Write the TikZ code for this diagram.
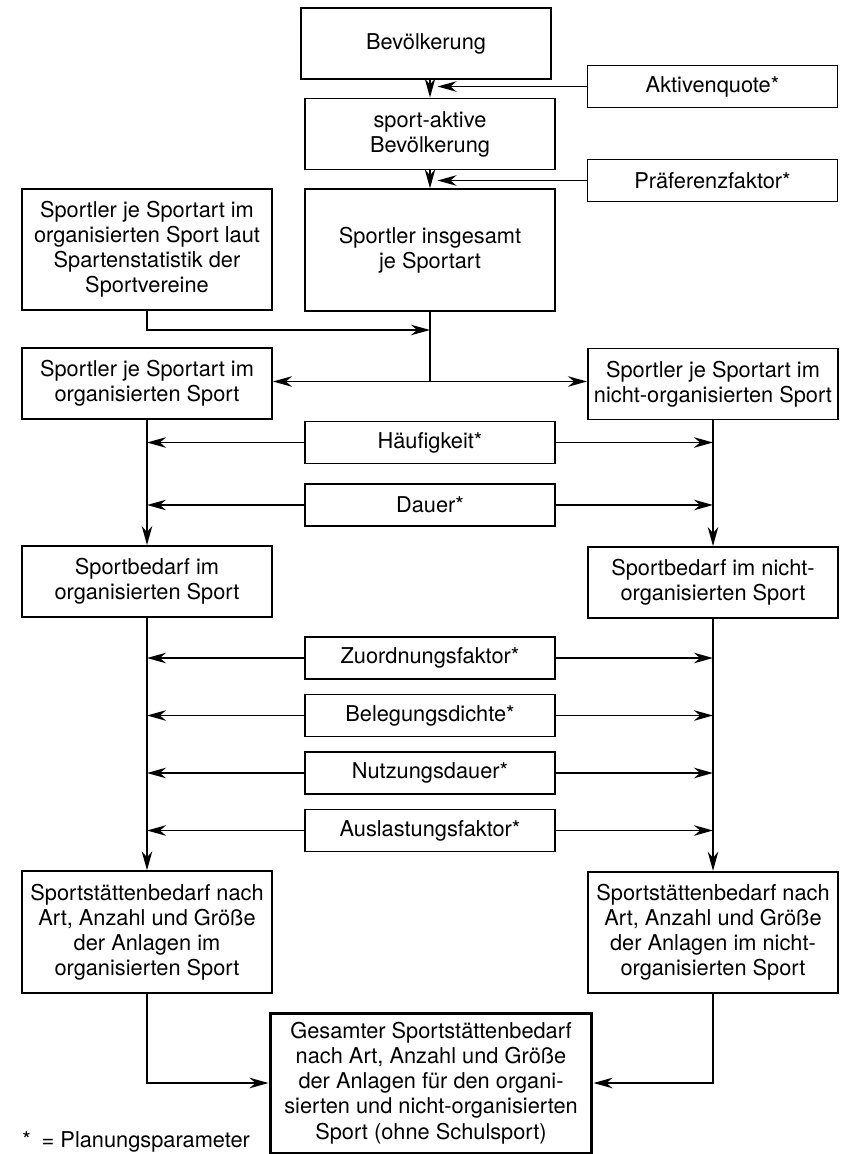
\documentclass[tikz,border=0pt]{standalone}
\usepackage{fontspec}
\setmainfont{TeX Gyre Heros}
\usetikzlibrary{arrows.meta}

\begin{document}
\begin{tikzpicture}[x=0.02cm, y=-0.02cm,
  box/.style={draw, line width=1.1pt, align=center, inner sep=1pt,
    minimum width=5cm, minimum height=1.42cm, font=\fontsize{12.4}{14.3}\selectfont},
  factorbox/.style={box, minimum height=0.84cm},
  bigbox/.style={box, minimum height=2.43cm},
  flow/.style={line width=1pt, -{Stealth[length=0.38cm, width=0.21cm, inset=0.12cm]}},
  link/.style={line width=1pt}]

\useasboundingbox (0,0) rectangle (849,1154);

% population
\node (bev) at (426,43.5) [box]{Bevölkerung};
\node (akt) at (712.5,86.5) [factorbox]{Aktivenquote*};
\node (spakt) at (430,134) [box]{sport-aktive\\Bevölkerung};
\node (praef) at (712.5,180.5) [factorbox]{Präferenzfaktor*};
\node (laut) at (147,249.5) [bigbox]{Sportler je Sportart im\\organisierten Sport laut\\Spartenstatistik der\\Sportvereine};
\node (insg) at (430,250) [bigbox]{Sportler insgesamt\\je Sportart};

% sportsmen
\node (org) at (147,383.5) [box]{Sportler je Sportart im\\organisierten Sport};
\node (norg) at (713,384) [box]{Sportler je Sportart im\\nicht-organisierten Sport};
\node (haeuf) at (430,442.5) [factorbox]{Häufigkeit*};
\node (dauer) at (430,505) [factorbox]{Dauer*};

% demand
\node (bedorg) at (147,581.5) [box]{Sportbedarf im\\organisierten Sport};
\node (bednorg) at (713,582.5) [box]{Sportbedarf im nicht-\\organisierten Sport};
\node (zuord) at (430,658) [factorbox]{Zuordnungsfaktor*};
\node (beleg) at (430,715.5) [factorbox]{Belegungsdichte*};
\node (nutz) at (430,773) [factorbox]{Nutzungsdauer*};
\node (ausl) at (430,830.5) [factorbox]{Auslastungsfaktor*};

% facilities
\node (stoorg) at (147,932) [bigbox]{Sportstättenbedarf nach\\Art, Anzahl und Größe\\der Anlagen im\\organisierten Sport};
\node (stonorg) at (713,932.5) [bigbox]{Sportstättenbedarf nach\\Art, Anzahl und Größe\\der Anlagen im nicht-\\organisierten Sport};
\node (ges) at (431,1083) [box, line width=1.7pt, minimum width=6.44cm, minimum height=2.8cm]{Gesamter Sportstättenbedarf\\nach Art, Anzahl und Größe\\der Anlagen für den organi-\\sierten und nicht-organisierten\\Sport (ohne Schulsport)};

\node (note) at (22,1147) [anchor=base west, inner sep=0pt, font=\fontsize{12.4}{14.3}\selectfont]{*\enspace= Planungsparameter};

% upper arrows
\draw[flow] (spakt.north |- bev.south) -- (spakt.north);
\draw[flow, shorten >=0.15cm] (akt.west) -- (akt.west -| spakt.north);
\draw[flow] (spakt.south) -- (insg.north);
\draw[flow, shorten >=0.15cm] (praef.west) -- (praef.west -| insg.north);

\coordinate (mrg) at (430,330);
\coordinate (split) at (430,381.5);
\draw[flow] (laut.south) |- (mrg);
\draw[link] (insg.south) -- (split);
\draw[flow] (split) -- (split -| org.east);
\draw[flow] (split) -- (split -| norg.west);

% left and right columns
\draw[flow] (org.south) -- (bedorg.north);
\draw[flow] (norg.south) -- (bednorg.north);
\draw[flow] (haeuf.west) -- (haeuf.west -| org.south);
\draw[flow] (haeuf.east) -- (haeuf.east -| norg.south);
\draw[flow] (dauer.west) -- (dauer.west -| org.south);
\draw[flow] (dauer.east) -- (dauer.east -| norg.south);

\draw[flow] (bedorg.south) -- (stoorg.north);
\draw[flow] (bednorg.south) -- (stonorg.north);
\draw[flow] (zuord.west) -- (zuord.west -| bedorg.south);
\draw[flow] (zuord.east) -- (zuord.east -| bednorg.south);
\draw[flow] (beleg.west) -- (beleg.west -| bedorg.south);
\draw[flow] (beleg.east) -- (beleg.east -| bednorg.south);
\draw[flow] (nutz.west) -- (nutz.west -| bedorg.south);
\draw[flow] (nutz.east) -- (nutz.east -| bednorg.south);
\draw[flow] (ausl.west) -- (ausl.west -| bedorg.south);
\draw[flow] (ausl.east) -- (ausl.east -| bednorg.south);

% total
\draw[flow] (stoorg.south) |- (ges.west);
\draw[flow] (stonorg.south) |- (ges.east);

\end{tikzpicture}
\end{document}
